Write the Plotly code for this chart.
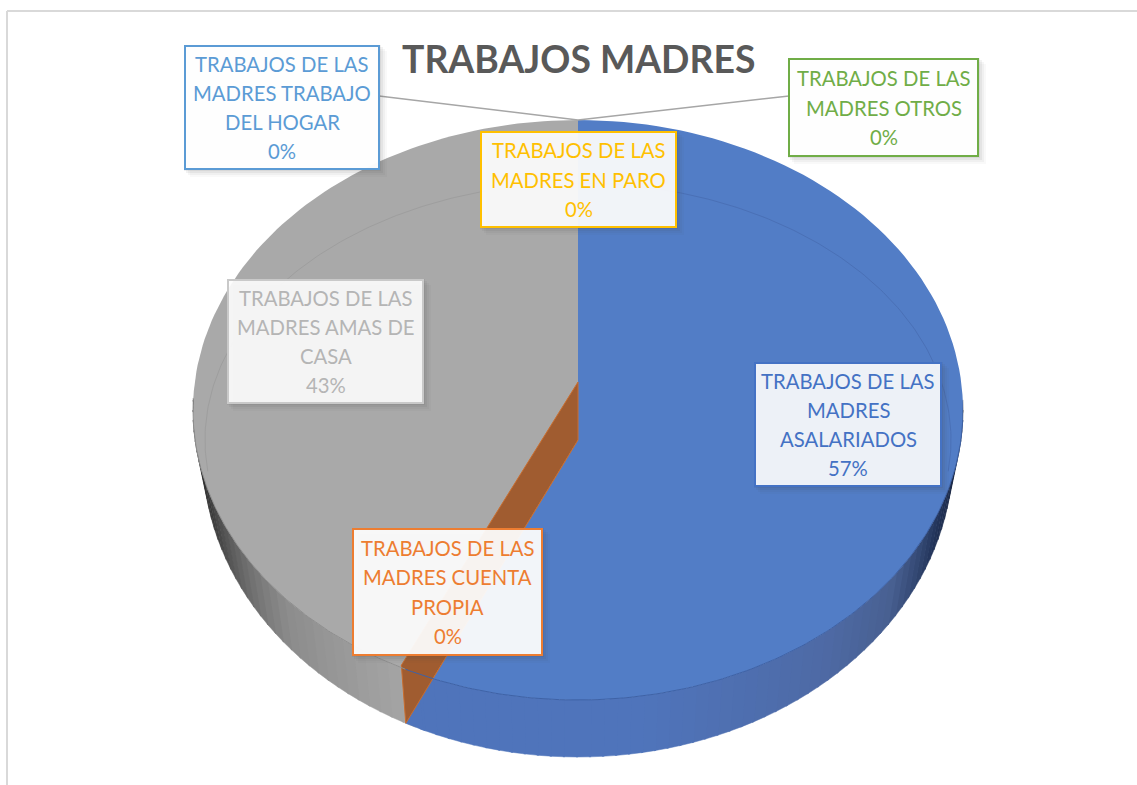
import math
import plotly.graph_objects as go

# ---- data ----
TITLE = "TRABAJOS MADRES"
categories = [
    "TRABAJOS DE LAS MADRES ASALARIADOS",
    "TRABAJOS DE LAS MADRES CUENTA PROPIA",
    "TRABAJOS DE LAS MADRES AMAS DE CASA",
    "TRABAJOS DE LAS MADRES TRABAJO DEL HOGAR",
    "TRABAJOS DE LAS MADRES EN PARO",
    "TRABAJOS DE LAS MADRES OTROS",
]
values = [57.4, 0.0, 42.6, 0.0, 0.0, 0.0]
label_lines = [
    ["TRABAJOS DE LAS", "MADRES", "ASALARIADOS"],
    ["TRABAJOS DE LAS", "MADRES CUENTA", "PROPIA"],
    ["TRABAJOS DE LAS", "MADRES AMAS DE", "CASA"],
    ["TRABAJOS DE LAS", "MADRES TRABAJO", "DEL HOGAR"],
    ["TRABAJOS DE LAS", "MADRES EN PARO"],
    ["TRABAJOS DE LAS", "MADRES OTROS"],
]
text_colors = ["#4472C4", "#ED7D31", "#B5B5B5", "#5B9BD5", "#FFC000", "#70AD47"]
border_colors = ["#4472C4", "#ED7D31", "#C9C9C9", "#5B9BD5", "#FFC000", "#70AD47"]
box_fills = ["rgba(255,255,255,0.90)", "rgba(255,255,255,0.93)", "rgba(255,255,255,0.90)",
             "rgba(255,255,255,0.96)", "rgba(255,255,255,0.92)", "rgba(255,255,255,0.96)"]
boxes = [(755, 363, 941, 486), (353, 529, 542, 655), (228, 280, 423, 403),
         (185, 46, 379, 169), (481, 132, 676, 227), (789, 59, 978, 156)]

# ---- geometry of the tilted pie (view, not data) ----
W, H = 1137, 785
CX, CY, RX, RY = 578, 410, 385, 290
BCY, BRX, BRY = 455, 375, 302
APEX_TOP, APEX_BOT = 382, 440
BLUE, GRAY = "#527DC6", "#A9A9A9"
FONT = "Lato"


def top_pt(t):
    r = math.radians(t)
    return CX + RX * math.sin(r), CY - RY * math.cos(r)


def bot_pt(t):
    r = math.radians(t)
    return CX + BRX * math.sin(r), BCY - BRY * math.cos(r)


def arc(fn, a, b, n=120):
    pts = [fn(a + (b - a) * i / n) for i in range(n + 1)]
    return [p[0] for p in pts], [p[1] for p in pts]


def ramp(stops, t):
    for (t0, c0), (t1, c1) in zip(stops, stops[1:]):
        if t0 <= t <= t1:
            f = (t - t0) / (t1 - t0)
            rgb = [round(c0[i] + (c1[i] - c0[i]) * f) for i in range(3)]
            return "rgb(%d,%d,%d)" % tuple(rgb)
    return "rgb(%d,%d,%d)" % tuple(stops[-1][1])


def poly(fig, xs, ys, color, width=0, lcolor=None):
    fig.add_trace(go.Scatter(x=xs, y=ys, mode="lines", fill="toself", fillcolor=color,
                             line=dict(color=lcolor or color, width=width),
                             hoverinfo="skip", showlegend=False))


fig = go.Figure()

t_end = values[0] / sum(values) * 360.0
t_wall = t_end + 0.7  # the wall's lower edge sits slightly further round in perspective
t_cut = t_end - 2

blue_stops = [(88, (15, 25, 45)), (110, (35, 52, 90)), (125, (72, 96, 145)),
              (140, (78, 106, 165)), (170, (79, 116, 187)), (t_wall, (79, 116, 187))]
gray_stops = [(t_end - 1, (166, 166, 166)), (219, (152, 152, 152)), (230, (139, 139, 139)),
              (239.5, (112, 112, 112)), (255, (58, 58, 58)), (272, (40, 40, 40))]


def wall(a, b, stops, step=2.0):
    t = a
    while t < b:
        e = min(t + step, b)
        xt, yt = arc(top_pt, t, e + 0.3, 4)
        xb, yb = arc(bot_pt, e + 0.3, t, 4)
        poly(fig, xt + xb, yt + yb, ramp(stops, (t + e) / 2), 0.5)
        t = e


# gray wall and gray top face
wall(t_end - 1, 272, gray_stops)
xa, ya = arc(top_pt, t_end - 1, 360)
poly(fig, [CX] + xa + [CX], [APEX_TOP] + ya + [APEX_TOP], GRAY)

rx0, ry0 = top_pt(t_end)
bx0, by0 = bot_pt(t_wall)
cx0, cy0 = top_pt(t_cut)

# blue wall and blue top face
wall(88, t_cut, blue_stops)
xb, yb = arc(bot_pt, t_cut - 0.3, t_wall, 8)
poly(fig, xb + [cx0], yb + [cy0], "rgb(79,116,187)", 0.5)
xa, ya = arc(top_pt, 0, t_cut)
poly(fig, [CX] + xa + [bx0, CX], [APEX_BOT] + ya + [by0, APEX_BOT], BLUE)

# zero-size slice: only its cut face shows
poly(fig, [CX, CX, bx0, rx0 - 4, CX], [APEX_TOP, APEX_BOT, by0, ry0 - 4, APEX_TOP],
     "#A05C30", 1, "#C96D2E")

# rim seam
for a, b, c in [(92, t_end, "#3E62A6"), (t_end, 268, "#8F8F8F")]:
    xs, ys = arc(top_pt, a, b)
    fig.add_trace(go.Scatter(x=xs, y=ys, mode="lines", line=dict(color=c, width=1),
                             hoverinfo="skip", showlegend=False))


# faint bevel line on the top face
def inner_pt(t):
    r = math.radians(t)
    return CX + 373 * math.sin(r), 440 - 257 * math.cos(r)


for a, b, c in [(0, 97, "#4A70B6"), (263, 360, "#9E9E9E")]:
    xs, ys = arc(inner_pt, a, b)
    fig.add_trace(go.Scatter(x=xs, y=ys, mode="lines", line=dict(color=c, width=1),
                             hoverinfo="skip", showlegend=False))

# leader lines
for xs, ys in [([379, CX], [96, 120]), ([CX, 780, 789], [120, 97, 96])]:
    fig.add_trace(go.Scatter(x=xs, y=ys, mode="lines", line=dict(color="#A6A6A6", width=1.5),
                             hoverinfo="skip", showlegend=False))

shapes = [
    dict(type="line", x0=7, x1=W, y0=11, y1=11, line=dict(color="#D9D9D9", width=2)),
    dict(type="line", x0=7, x1=7, y0=11, y1=H, line=dict(color="#D9D9D9", width=2)),
]
annotations = [dict(x=578, y=58, text="<b>%s</b>" % TITLE, showarrow=False, xanchor="center",
                    yanchor="middle", font=dict(family=FONT, size=37.3, color="#595959"))]

LINE_H = 29.3
for i, (x0, y0, x1, y1) in enumerate(boxes):
    # soft shadow
    for off, alpha in [(8, 0.03), (6, 0.05), (4, 0.07), (2, 0.08)]:
        shapes.append(dict(type="rect", x0=x0 + off - 3, x1=x1 + off, y0=y0 + off - 3, y1=y1 + off,
                           line_width=0, fillcolor="rgba(70,70,70,%.2f)" % alpha))
    shapes.append(dict(type="rect", x0=x0, x1=x1, y0=y0, y1=y1, fillcolor=box_fills[i],
                       line=dict(color=border_colors[i], width=2)))
    lines = label_lines[i] + ["%d%%" % round(values[i])]
    mid = (y0 + y1) / 2
    for j, s in enumerate(lines):
        annotations.append(dict(x=(x0 + x1) / 2, y=mid + (j - (len(lines) - 1) / 2) * LINE_H,
                                text=s, showarrow=False, xanchor="center", yanchor="middle",
                                font=dict(family=FONT, size=20.3, color=text_colors[i])))

fig.update_layout(
    width=W, height=H, margin=dict(l=0, r=0, t=0, b=0),
    paper_bgcolor="white", plot_bgcolor="white", showlegend=False,
    xaxis=dict(range=[0, W], visible=False, fixedrange=True),
    yaxis=dict(range=[H, 0], visible=False, fixedrange=True),
    shapes=shapes, annotations=annotations,
)

fig.write_html("out.html", config={"displayModeBar": False},
               post_script="document.body.style.margin='0';document.body.style.overflow='hidden';")
